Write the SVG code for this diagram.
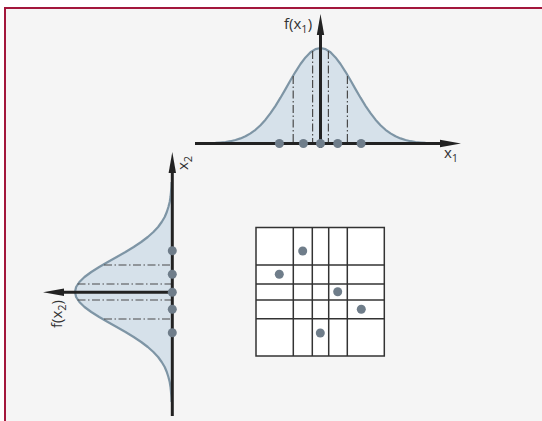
<svg xmlns="http://www.w3.org/2000/svg" width="542" height="421" viewBox="0 0 542 421">
<style>
.curve{fill:#d6e1ea;stroke:#7e95a5;stroke-width:2.2;stroke-linejoin:round}
.axis{stroke:#222;stroke-width:3;fill:none}
.head{fill:#222}
.dd{stroke:#4a4a4a;stroke-width:1.2;stroke-dasharray:8 2.5 1.5 2.5;fill:none}
.dot{fill:#6f7d8a}
.grid{fill:#fff;stroke:#333;stroke-width:1.5}
.lbl{font-family:"Open Sans","Noto Sans",sans-serif;font-size:15px;fill:#333}
.sub{font-size:11px}
</style>
<rect x="4" y="7" width="538" height="414" fill="#f5f5f5"/>
<path d="M5,421 V8 H542" fill="none" stroke="#a3173c" stroke-width="2"/>

<g id="top-distribution">
<path class="curve" d="M210.5,143.1 L215.5,142.9 L220.5,142.5 L225.5,142.0 L230.5,141.2 L235.5,140.0 L240.5,138.4 L245.5,136.3 L250.5,133.4 L255.5,129.8 L260.5,125.2 L265.5,119.7 L270.5,113.2 L275.5,105.8 L280.5,97.7 L285.5,89.1 L290.5,80.3 L295.5,71.8 L300.5,64.0 L305.5,57.4 L310.5,52.3 L315.5,49.1 L320.5,48.0 L325.5,49.1 L330.5,52.3 L335.5,57.4 L340.5,64.0 L345.5,71.8 L350.5,80.3 L355.5,89.1 L360.5,97.7 L365.5,105.8 L370.5,113.2 L375.5,119.7 L380.5,125.2 L385.5,129.8 L390.5,133.4 L395.5,136.3 L400.5,138.4 L405.5,140.0 L410.5,141.2 L415.5,142.0 L420.5,142.5 L425.5,142.9 L430.5,143.1"/>
<line class="dd" x1="293.2" y1="76" x2="293.2" y2="143"/>
<line class="dd" x1="312.6" y1="51" x2="312.6" y2="143"/>
<line class="dd" x1="328.4" y1="51" x2="328.4" y2="143"/>
<line class="dd" x1="347.4" y1="76" x2="347.4" y2="143"/>
<line class="axis" x1="195" y1="143.5" x2="445" y2="143.5"/>
<polygon class="head" points="461,143.5 440,139.8 440,147.2"/>
<line class="axis" x1="320.5" y1="148" x2="320.5" y2="30"/>
<polygon class="head" points="320.5,14 316.8,35 324.2,35"/>
<circle class="dot" cx="279.4" cy="143.5" r="4.5"/>
<circle class="dot" cx="303.4" cy="143.5" r="4.5"/>
<circle class="dot" cx="320.5" cy="143.5" r="4.5"/>
<circle class="dot" cx="337.7" cy="143.5" r="4.5"/>
<circle class="dot" cx="361.1" cy="143.5" r="4.5"/>
<text class="lbl" x="284" y="29">f(x<tspan class="sub" dy="4">1</tspan><tspan dy="-4">)</tspan></text>
<text class="lbl" x="444" y="158">x<tspan class="sub" dy="4">1</tspan></text>
</g>

<g id="left-distribution">
<path class="curve" d="M171.6,182 L171.4,187 L171.0,192 L170.5,197 L169.7,202 L168.4,207 L166.8,212 L164.7,217 L161.7,222 L158.1,227 L153.4,232 L147.8,237 L141.2,242 L133.7,247 L125.5,252 L116.7,257 L107.8,262 L99.2,267 L91.3,272 L84.5,277 L79.4,282 L76.1,287 L75.0,292 L76.1,297 L79.4,302 L84.5,307 L91.3,312 L99.2,317 L107.8,322 L116.7,327 L125.5,332 L133.7,337 L141.2,342 L147.8,347 L153.4,352 L158.1,357 L161.7,362 L164.7,367 L166.8,372 L168.4,377 L169.7,382 L170.5,387 L171.0,392 L171.4,397 L171.6,402"/>
<line class="dd" x1="104" y1="265" x2="172" y2="265"/>
<line class="dd" x1="77.5" y1="284" x2="172" y2="284"/>
<line class="dd" x1="77.5" y1="300" x2="172" y2="300"/>
<line class="dd" x1="104" y1="319" x2="172" y2="319"/>
<line class="axis" x1="172.3" y1="416" x2="172.3" y2="168"/>
<polygon class="head" points="172.3,152 168.6,173 176,173"/>
<line class="axis" x1="172.3" y1="292.3" x2="58" y2="292.3"/>
<polygon class="head" points="43,292.3 64,288.6 64,296"/>
<circle class="dot" cx="172.3" cy="250.8" r="4.5"/>
<circle class="dot" cx="172.3" cy="274.3" r="4.5"/>
<circle class="dot" cx="172.3" cy="292.3" r="4.5"/>
<circle class="dot" cx="172.3" cy="309.3" r="4.5"/>
<circle class="dot" cx="172.3" cy="332.7" r="4.5"/>
<text class="lbl" transform="translate(188,170) rotate(-90)">x<tspan class="sub" dy="4">2</tspan></text>
<text class="lbl" transform="translate(62,328) rotate(-90)">f(x<tspan class="sub" dy="4">2</tspan><tspan dy="-4">)</tspan></text>
</g>

<g id="grid">
<rect class="grid" x="256" y="227.5" width="128.3" height="128.5"/>
<g stroke="#333" stroke-width="1.5">
<line x1="293.3" y1="227.5" x2="293.3" y2="356"/>
<line x1="312.3" y1="227.5" x2="312.3" y2="356"/>
<line x1="328.7" y1="227.5" x2="328.7" y2="356"/>
<line x1="347.3" y1="227.5" x2="347.3" y2="356"/>
<line x1="256" y1="265" x2="384.3" y2="265"/>
<line x1="256" y1="284" x2="384.3" y2="284"/>
<line x1="256" y1="300" x2="384.3" y2="300"/>
<line x1="256" y1="318.7" x2="384.3" y2="318.7"/>
</g>
<circle class="dot" cx="302.7" cy="251" r="4.5"/>
<circle class="dot" cx="279.3" cy="274.3" r="4.5"/>
<circle class="dot" cx="337.7" cy="291.7" r="4.5"/>
<circle class="dot" cx="361.3" cy="309.3" r="4.5"/>
<circle class="dot" cx="320.3" cy="333" r="4.5"/>
</g>
</svg>
